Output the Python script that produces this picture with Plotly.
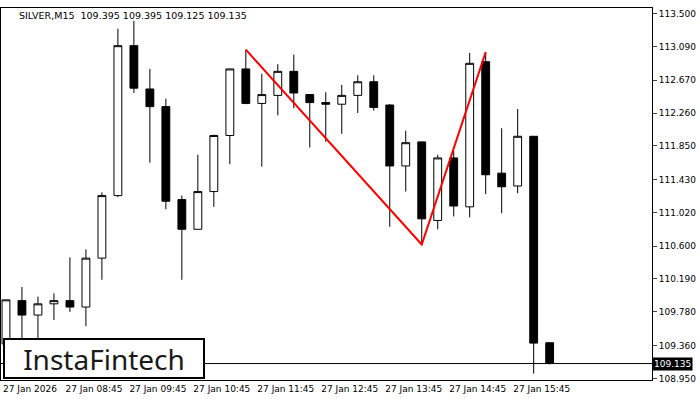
import plotly.graph_objects as go

opens  = [109.38,109.92,109.74,109.88,109.92,109.84,110.45,111.23,113.10,112.56,112.34,111.18,110.81,111.28,111.98,112.81,112.38,112.48,112.78,112.49,112.39,112.37,112.48,112.65,112.36,111.60,111.90,110.92,111.70,111.09,112.90,111.51,111.35,111.97,109.395]
highs  = [109.93,110.09,109.97,110.01,110.46,110.56,111.27,113.31,113.41,112.81,112.44,111.23,111.74,111.99,112.81,113.05,112.75,112.87,112.99,112.49,112.52,112.61,112.73,112.73,112.37,112.04,111.90,111.74,111.79,113.01,113.02,112.07,112.31,111.97,109.395]
lows   = [109.28,109.40,109.45,109.68,109.78,109.60,110.18,111.21,112.51,111.64,111.06,110.18,110.81,111.09,111.62,112.37,111.59,112.23,112.32,111.83,111.90,112.00,112.26,112.29,110.84,111.28,110.62,110.81,110.97,110.96,111.25,111.01,111.26,109.01,109.125]
closes = [109.93,109.74,109.88,109.92,109.84,110.45,111.23,113.10,112.57,112.34,111.16,110.81,111.28,111.98,112.81,112.38,112.49,112.78,112.51,112.39,112.37,112.48,112.65,112.33,111.60,111.89,110.94,111.70,111.10,112.88,111.49,111.34,111.97,109.39,109.135]
pattern_idx = [15, 26, 30]
pattern_px = [113.05, 110.62, 113.02]
tick_prices = [113.500,113.090,112.670,112.260,111.850,111.430,111.020,110.600,110.190,109.780,109.360,108.950]
time_idx = [0,4,8,12,16,20,24,28,32]
time_labels = ["27 Jan 2026","27 Jan 08:45","27 Jan 09:45","27 Jan 10:45","27 Jan 11:45","27 Jan 12:45","27 Jan 13:45","27 Jan 14:45","27 Jan 15:45"]
last_price = 109.135

x = list(range(len(opens)))
fig = go.Figure()
fig.add_trace(go.Candlestick(x=x, open=opens, high=highs, low=lows, close=closes,
    increasing=dict(fillcolor="white", line=dict(color="black", width=1)),
    decreasing=dict(fillcolor="black", line=dict(color="black", width=1)),
    whiskerwidth=0, showlegend=False, hoverinfo="skip"))
fig.add_trace(go.Scatter(x=pattern_idx, y=pattern_px, mode="lines",
    line=dict(color="red", width=2), showlegend=False, hoverinfo="skip"))
fig.add_hline(y=last_price, line=dict(color="black", width=1))

fig.update_layout(
    width=700, height=400, margin=dict(l=1, r=48, t=8, b=20, autoexpand=False),
    paper_bgcolor="white", plot_bgcolor="white",
    font=dict(family="DejaVu Sans", size=9, color="black"),
    xaxis=dict(range=[-0.31, 40.4], rangeslider=dict(visible=False), automargin=False,
               tickvals=[i + 1.5 for i in time_idx], ticktext=time_labels,
               showgrid=False, zeroline=False, showline=True, linecolor="black",
               mirror=True, ticks="", tickfont=dict(size=9)),
    yaxis=dict(range=[108.93, 113.57], side="right", tickvals=tick_prices, automargin=False,
               ticktext=[f"{v:.3f}" for v in tick_prices],
               showgrid=False, zeroline=False, showline=True, linecolor="black",
               mirror=True, ticks="outside", ticklen=4, tickfont=dict(size=9)),
)
fig.add_annotation(xref="paper", yref="paper", x=0.025, y=1.0, xanchor="left", yanchor="top",
    text="SILVER,M15  109.395 109.395 109.125 109.135", showarrow=False, font=dict(size=9.5))
fig.add_annotation(xref="paper", yref="y", x=1.0, y=last_price, xanchor="left", yanchor="middle",
    text="109.135", showarrow=False, bgcolor="black", font=dict(color="white", size=9),
    borderpad=1)
fig.add_annotation(xref="paper", yref="paper", x=0.003, y=0.003, xanchor="left", yanchor="bottom",
    text="InstaFintech", showarrow=False, font=dict(size=28, color="#1a1a1a", family="Noto Sans"),
    bgcolor="white", bordercolor="black", borderwidth=2, borderpad=2, width=194, height=33)
fig.write_html("out.html", config={"displayModeBar": False},
               post_script="document.body.style.margin='0';")
